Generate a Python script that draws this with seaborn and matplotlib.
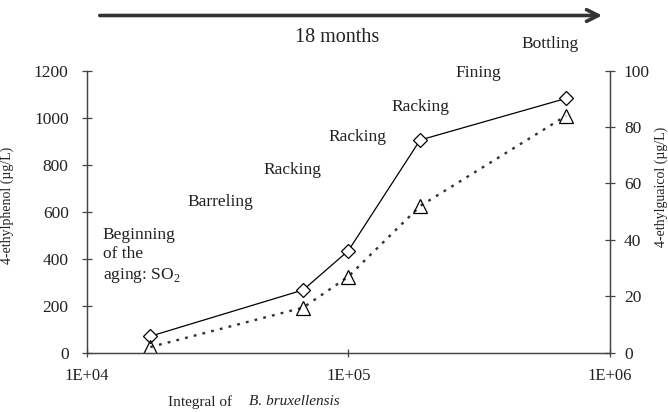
"""Phenols vs integral of B. bruxellensis during barrel aging."""
import matplotlib
matplotlib.use("Agg")
import matplotlib.pyplot as plt
import seaborn as sns

# data
integral = [17500, 67200, 100000, 188000, 679000]
ethylphenol = [70, 267, 434, 905, 1082]      # left axis, µg/L
ethylguaiacol = [2, 16, 27, 52, 84]          # right axis, µg/L

x_ticks = [1e4, 1e5, 1e6]
x_tick_labels = ["1E+04", "1E+05", "1E+06"]
left_ticks = [0, 200, 400, 600, 800, 1000, 1200]
right_ticks = [0, 20, 40, 60, 80, 100]

stage_labels = ["Barreling", "Racking", "Racking", "Racking", "Fining", "Bottling"]
stage_pos_px = [(220, 202), (292, 170), (357, 137), (420, 107), (478, 73), (550, 44)]

W, H = 668, 412
AX_L, AX_R, AX_T, AX_B = 86.7, 610, 70.7, 352.7

sns.set_theme(style="white")
plt.rcParams["font.family"] = ["Liberation Serif", "DejaVu Serif"]
plt.rcParams["mathtext.fontset"] = "custom"
plt.rcParams["mathtext.rm"] = "Liberation Serif"

ink = "#222222"
axis_col = "#444444"

fig = plt.figure(figsize=(W / 100, H / 100), dpi=100)
ax = fig.add_axes([AX_L / W, 1 - AX_B / H, (AX_R - AX_L) / W, (AX_B - AX_T) / H])
ax.set_xscale("log")

sns.lineplot(x=integral, y=ethylphenol, ax=ax, color="black", lw=0.9,
             marker="D", markersize=7.1, markerfacecolor="white",
             markeredgecolor="black", markeredgewidth=0.9)

ax2 = ax.twinx()
sns.lineplot(x=integral, y=ethylguaiacol, ax=ax2, color="#333333", lw=1.7,
             linestyle=(0, (1.2, 2.6)), marker="^", markersize=10.5,
             markerfacecolor="none", markeredgecolor="black", markeredgewidth=0.9)

ax.set_xlim(1e4, 1e6)
ax.set_ylim(0, 1200)
ax2.set_ylim(0, 100)
ax.set_xticks(x_ticks)
ax.set_xticklabels(x_tick_labels)
ax.minorticks_off()
ax.set_yticks(left_ticks)
ax2.set_yticks(right_ticks)
ax.set_xlabel("")

ax_w = AX_R - AX_L
ax_h = AX_B - AX_T
ax.set_ylabel("4-ethylphenol (µg/L)", fontsize=10, color=ink)
ax.yaxis.set_label_coords((14 - AX_L) / ax_w, (AX_B - 205) / ax_h)
ax2.set_ylabel("4-ethylguaicol (µg/L)", fontsize=10, color=ink)
ax2.yaxis.set_label_coords((655 - AX_L) / ax_w, (AX_B - 187) / ax_h)

for a in (ax, ax2):
    a.spines["top"].set_visible(False)
    for s in ("left", "right", "bottom"):
        a.spines[s].set_color(axis_col)
        a.spines[s].set_linewidth(0.9)
    a.grid(False)
ax.patch.set_visible(False)
ax.tick_params(axis="y", direction="inout", length=7, width=0.9, color=axis_col,
               labelsize=12.5, labelcolor=ink, pad=9.5, left=True)
ax.tick_params(axis="x", direction="inout", length=6, width=0.9, color=axis_col,
               labelsize=12, labelcolor=ink, pad=8, bottom=True)
ax2.tick_params(axis="y", direction="inout", length=7, width=0.9, color=axis_col,
                labelsize=12.5, labelcolor=ink, pad=6.5, right=True)


def fx(px):
    return px / W


def fy(py):
    return 1 - py / H


# x label, mixed upright / italic
fig.text(fx(200.5), fy(401.7), "Integral of", fontsize=11, color=ink, ha="center", va="center")
fig.text(fx(294.5), fy(401.7), "B. bruxellensis", fontsize=11, color=ink, style="italic",
         ha="center", va="center")

# process stages
fig.text(fx(102.7), fy(256), "Beginning\nof the\naging: SO$_\\mathrm{2}$", fontsize=12.5,
         color=ink, ha="left", va="center", linespacing=1.3)
for lab, (px, py) in zip(stage_labels, stage_pos_px):
    fig.text(fx(px), fy(py), lab, fontsize=12.5, color=ink, ha="center", va="center")

# time arrow
fig.text(fx(337), fy(37), "18 months", fontsize=14.5, color=ink, ha="center", va="center")
arrow_ax = fig.add_axes([0, 0, 1, 1], facecolor="none")
arrow_ax.set_xlim(0, W)
arrow_ax.set_ylim(H, 0)
arrow_ax.axis("off")
arrow_ax.annotate("", xy=(605, 15.5), xytext=(97, 15.5),
                  arrowprops=dict(arrowstyle="->,head_length=0.7,head_width=0.35",
                                  lw=2.6, color="#333333"))

fig.savefig("out.png", dpi=100)
